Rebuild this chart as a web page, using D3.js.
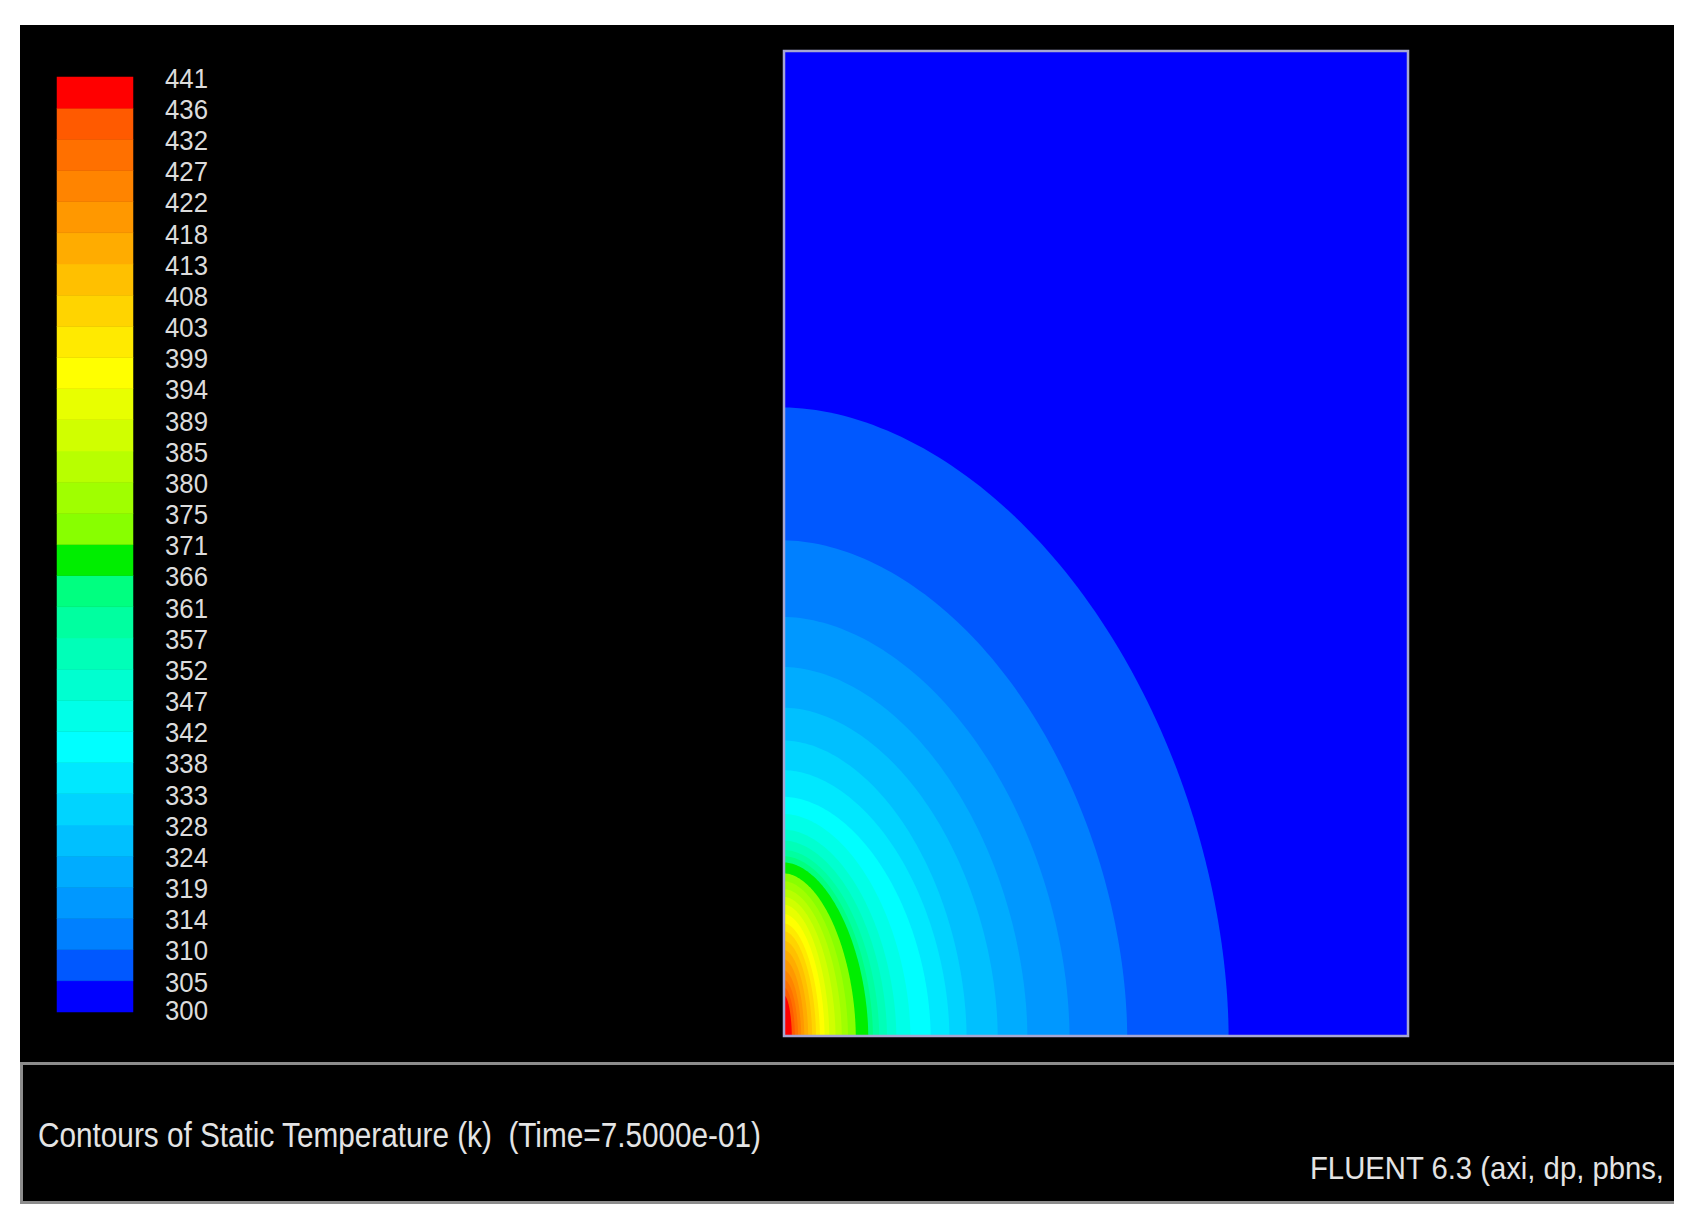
<!DOCTYPE html>
<html>
<head>
<meta charset="utf-8">
<script src="https://cdn.jsdelivr.net/npm/d3@7"></script>
<style>
  body { margin: 0; background: #fff; }
  svg { display: block; }
  text { font-family: "Liberation Sans Narrow", "Liberation Sans", Arial, sans-serif; white-space: pre; }
</style>
</head>
<body>
<svg id="chart"></svg>
<script>
// legend levels (K), bottom to top
const levelLabels = [300,305,310,314,319,324,328,333,338,342,347,352,357,361,366,371,
                     375,380,385,389,394,399,403,408,413,418,422,427,432,436,441];

// colour of each band between two levels, bottom band first
const bandColors = ["#0000ff","#0058ff","#0080ff","#0098ff","#00acff","#00c0ff","#00d4ff",
                    "#00e8ff","#00ffff","#00ffe8","#00ffd0","#00ffb8","#00ffa0","#00ff80",
                    "#00ee00","#88ff00","#a0ff00","#b8ff00","#d0ff00","#e8ff00","#ffff00",
                    "#ffea00","#ffd400","#ffc000","#ffac00","#ff9800","#ff8400","#ff7000",
                    "#ff5a00","#ff0000"];

// contour levels drawn in the domain and where each meets the walls (mm)
const contourLevels = [305,310,314,319,324,328,333,338,342,347,352,357,361,366,371,
                       375,380,385,389,394,399,403,408,413,418,422,427,432,436];
const xIntercepts = [28.5,22.0,18.3,15.6,13.7,11.7,10.6,9.4,8.1,7.2,6.6,6.1,5.7,5.4,4.6,
                     4.1,3.7,3.3,2.9,2.6,2.3,2.05,1.8,1.55,1.3,1.1,0.9,0.7,0.5];
const yIntercepts = [40.2,31.7,26.8,23.6,21.0,18.9,17.0,15.3,14.2,13.2,12.5,11.9,11.5,11.1,10.4,
                     9.9,9.4,8.9,8.4,7.8,7.2,6.7,6.1,5.5,4.9,4.2,3.6,3.1,2.6];

const titleText  = "Contours of Static Temperature (k)  (Time=7.5000e-01)";
const footerText = "FLUENT 6.3 (axi, dp, pbns,";

let width = 1700, height = 1228,
    svg = d3.select("#chart").attr("width", width).attr("height", height);

// black window
svg.append("rect")
    .attr("x", 20).attr("y", 25)
    .attr("width", 1654).attr("height", 1179)
    .attr("fill", "#000");

// ---- contour domain
let xScale = d3.scaleLinear().domain([0, 40]).range([784, 1408]),
    yScale = d3.scaleLinear().domain([0, 63]).range([1036, 51]),
    shapeExp = 1.85;

svg.append("clipPath").attr("id", "dom")
  .append("rect")
    .attr("x", xScale(0)).attr("y", yScale(63))
    .attr("width", xScale(40) - xScale(0))
    .attr("height", yScale(0) - yScale(63));

let plot = svg.append("g").attr("clip-path", "url(#dom)");

plot.append("rect")
    .attr("x", xScale(0)).attr("y", yScale(63))
    .attr("width", xScale(40) - xScale(0))
    .attr("height", yScale(0) - yScale(63))
    .attr("fill", bandColors[0]);

let contours = contourLevels.map((v, i) => ({ level: v, a: xIntercepts[i], b: yIntercepts[i], color: bandColors[i + 1] }));

function quarter(a, b) {
  let pts = [[0, 0]];
  d3.range(0, 91).forEach(deg => {
    let t = deg * Math.PI / 180;
    pts.push([a * Math.pow(Math.cos(t), 2 / shapeExp), b * Math.pow(Math.sin(t), 2 / shapeExp)]);
  });
  pts.push([0, 0]);
  return pts;
}

let line = d3.line().x(d => xScale(d[0])).y(d => yScale(d[1]));

plot.selectAll("path.band")
  .data(contours)
  .enter()
  .append("path")
    .attr("class", "band")
    .attr("d", d => line(quarter(d.a, d.b)))
    .attr("fill", d => d.color);

svg.append("rect")
    .attr("x", xScale(0)).attr("y", yScale(63))
    .attr("width", xScale(40) - xScale(0))
    .attr("height", yScale(0) - yScale(63))
    .attr("fill", "none")
    .attr("stroke", "#a6a6d2")
    .attr("stroke-width", 2.5);

// ---- colour legend
let legendScale = d3.scalePoint().domain(levelLabels).range([1012, 77]);

svg.selectAll("rect.key")
  .data(bandColors)
  .enter()
  .append("rect")
    .attr("class", "key")
    .attr("x", 57)
    .attr("width", 76)
    .attr("y", (d, i) => legendScale(levelLabels[i + 1]))
    .attr("height", (d, i) => legendScale(levelLabels[i]) - legendScale(levelLabels[i + 1]))
    .attr("fill", d => d)
    .attr("stroke", d => d)
    .attr("stroke-width", 0.5);

svg.selectAll("text.tick")
  .data(levelLabels)
  .enter()
  .append("text")
    .attr("class", "tick")
    .attr("x", 165)
    .attr("y", (d, i) => legendScale(d) + 1 - (i === 0 ? 3 : 0))
    .attr("dy", "0.36em")
    .attr("font-size", 27)
    .attr("textLength", 43)
    .attr("lengthAdjust", "spacingAndGlyphs")
    .attr("fill", "#dcdcdc")
    .text(d => d);

// ---- caption panel
svg.append("path")
    .attr("d", "M1674,1063.5 H21.5 V1202.5 H1674")
    .attr("fill", "none")
    .attr("stroke", "#8c8c8c")
    .attr("stroke-width", 3);

svg.append("text")
    .attr("x", 38)
    .attr("y", 1147)
    .attr("font-size", 35)
    .attr("textLength", 723)
    .attr("lengthAdjust", "spacingAndGlyphs")
    .attr("fill", "#e4e4e4")
    .text(titleText);

svg.append("text")
    .attr("x", 1310)
    .attr("y", 1179)
    .attr("font-size", 32)
    .attr("textLength", 354)
    .attr("lengthAdjust", "spacingAndGlyphs")
    .attr("fill", "#e4e4e4")
    .text(footerText);
</script>
</body>
</html>
